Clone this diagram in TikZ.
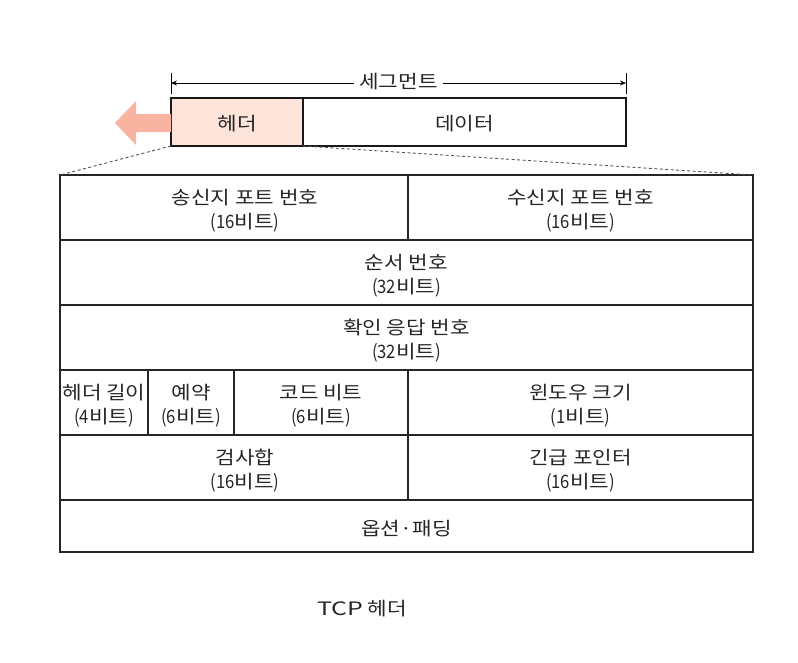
\documentclass[tikz,border=0pt]{standalone}
\usepackage{fontspec}
\setmainfont{Noto Sans CJK KR}[FakeStretch=1.15]
\newfontfamily\latn{Noto Sans CJK KR}[FakeStretch=0.9]
\newfontfamily\latw{Noto Sans CJK KR}[FakeStretch=1.35]
\usetikzlibrary{arrows.meta}
\definecolor{hdrfill}{HTML}{FCE4DB}
\definecolor{arrowfill}{HTML}{F8B3A1}
\definecolor{txt}{HTML}{262626}
\definecolor{dashc}{HTML}{555555}
\tikzset{
  every node/.style={text=txt},
  kfont/.style={font=\fontsize{18.5}{24}\selectfont},
  cell/.style={draw=black!85, line width=1.1pt, inner sep=0pt, outer sep=0pt,
    anchor=north west},
  celltext/.style={kfont, align=center, inner sep=0pt, yshift=-3pt},
  segbox/.style={draw=black!90, line width=1.1pt, inner sep=0pt, outer sep=0pt,
    anchor=north west, minimum height=48pt},
  guide/.style={dashc, line width=0.9pt, dash pattern=on 3pt off 2.5pt},
}
\newcommand{\bits}[1]{{\latn (#1}비트{\latn )}}
\begin{document}
\begin{tikzpicture}[x=1pt,y=-1pt]
\useasboundingbox (0,0) rectangle (798,662);
% segment boxes
\node[segbox, fill=hdrfill, minimum width=132pt] (hdr) at (171,98) {};
\node[segbox, minimum width=323pt] (dat) at (303,98) {};
\node[celltext, yshift=1pt] (hdrt) at (hdr.center) {헤더};
\node[celltext, yshift=1pt] (datt) at (dat.center) {데이터};
% left arrow
\fill[arrowfill] (hdr.west) ++(0,-8) -- ++(-35,0) -- ++(0,-13) -- ++(-21,22) -- ++(21,22) -- ++(0,-13) -- ++(35,0) -- cycle;
% segment dimension
\coordinate (sl) at (171,83);
\coordinate (sr) at (626,83);
\draw[line width=0.9pt] (sl) ++(0,-10) -- ++(0,21);
\draw[line width=0.9pt] (sr) ++(0,-10) -- ++(0,21);
\draw[line width=0.9pt, {Stealth[length=6pt,width=5pt]}-{Stealth[length=6pt,width=5pt]}] (sl) -- (sr)
  node[midway, fill=white, inner xsep=5pt, inner ysep=1pt, kfont, yshift=1.5pt] (seg) {세그먼트};
% table cells
\node[cell, minimum width=348pt, minimum height=65pt] (src) at (60,175) {};
\node[cell, minimum width=345pt, minimum height=65pt] (dst) at (408,175) {};
\node[cell, minimum width=693pt, minimum height=65pt] (seq) at (60,240) {};
\node[cell, minimum width=693pt, minimum height=65pt] (ack) at (60,305) {};
\node[cell, minimum width=88pt, minimum height=65pt] (hl) at (60,370) {};
\node[cell, minimum width=86pt, minimum height=65pt] (rsv) at (148,370) {};
\node[cell, minimum width=174pt, minimum height=65pt] (code) at (234,370) {};
\node[cell, minimum width=345pt, minimum height=65pt] (win) at (408,370) {};
\node[cell, minimum width=348pt, minimum height=65pt] (chk) at (60,435) {};
\node[cell, minimum width=345pt, minimum height=65pt] (urg) at (408,435) {};
\node[cell, minimum width=693pt, minimum height=52pt] (opt) at (60,500) {};
% cell texts
\node[celltext, xshift=11pt] (srct) at (src.center) {송신지 포트 번호\\\bits{16}};
\node[celltext] (dstt) at (dst.center) {수신지 포트 번호\\\bits{16}};
\node[celltext] (seqt) at (seq.center) {순서 번호\\\bits{32}};
\node[celltext] (ackt) at (ack.center) {확인 응답 번호\\\bits{32}};
\node[celltext] (hlt) at (hl.center) {헤더 길이\\\bits{4}};
\node[celltext] (rsvt) at (rsv.center) {예약\\\bits{6}};
\node[celltext] (codet) at (code.center) {코드 비트\\\bits{6}};
\node[celltext] (wint) at (win.center) {윈도우 크기\\\bits{1}};
\node[celltext, xshift=11pt] (chkt) at (chk.center) {검사합\\\bits{16}};
\node[celltext] (urgt) at (urg.center) {긴급 포인터\\\bits{16}};
\node[celltext] (optt) at (opt.center) {옵션·패딩};
% guide lines
\draw[guide] (hdr.south west) -- (src.north west);
\draw[guide] (hdr.south east) -- (dst.north east);
% caption
\node[kfont] (cap) at (362,609) {{\latw TCP} 헤더};
\end{tikzpicture}
\end{document}
